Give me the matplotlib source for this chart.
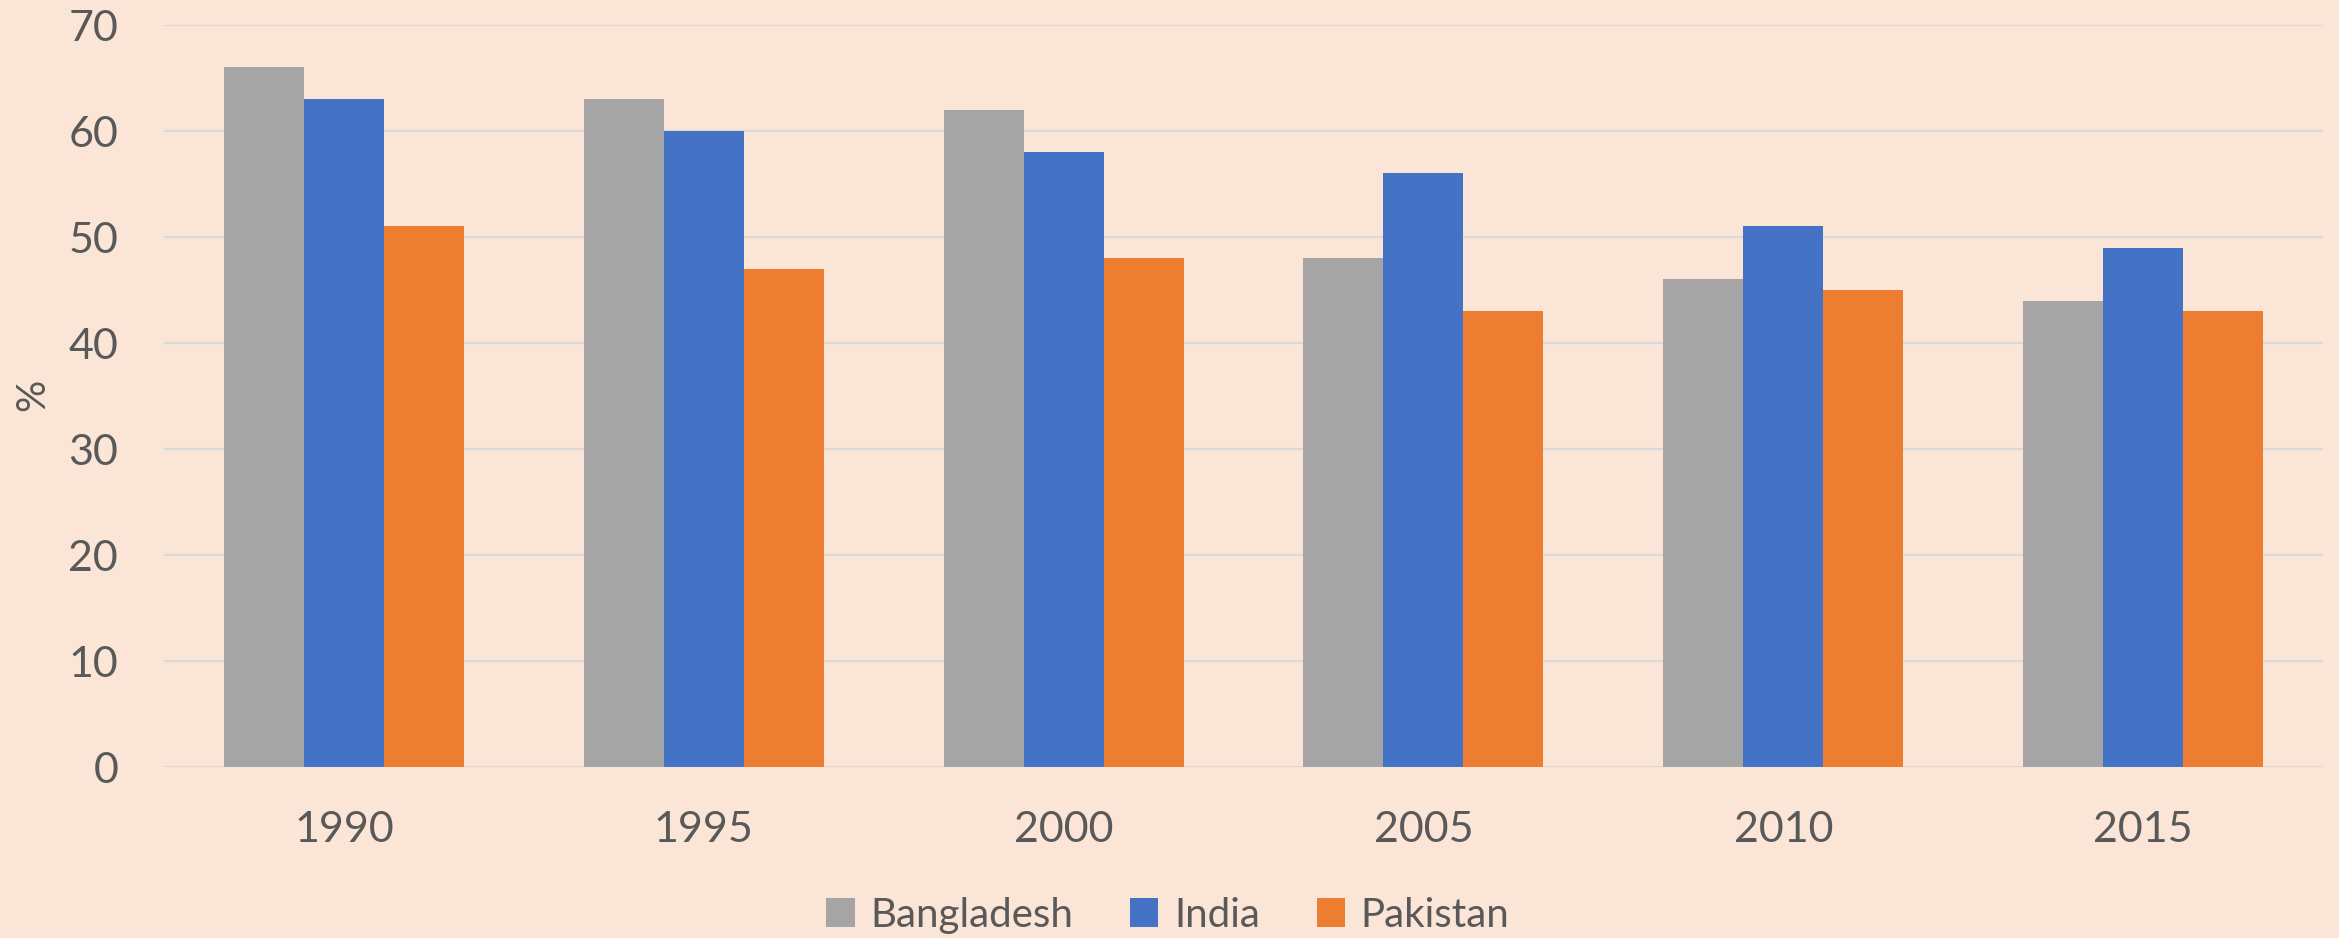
import matplotlib
matplotlib.use("Agg")
import matplotlib.pyplot as plt
import numpy as np

years = ["1990", "1995", "2000", "2005", "2010", "2015"]
bangladesh = [66, 63, 62, 48, 46, 44]
india = [63, 60, 58, 56, 51, 49]
pakistan = [51, 47, 48, 43, 45, 43]
series_names = ["Bangladesh", "India", "Pakistan"]
colors = ["#A5A5A5", "#4472C4", "#ED7D31"]

bg = "#FBE5D6"
txt = "#595959"
plt.rcParams['font.family'] = ['Lato', 'DejaVu Sans']

fig = plt.figure(figsize=(23.39, 9.38), dpi=100, facecolor=bg)
ax = fig.add_axes([164/2339, 1-767/938, (2323-164)/2339, (767-25)/938])
ax.set_facecolor(bg)

x = np.arange(len(years))
w = 0.2223
for i, (vals, name, c) in enumerate(zip([bangladesh, india, pakistan], series_names, colors)):
    ax.bar(x + (i - 1) * w, vals, width=w, color=c, label=name, zorder=3)

ax.set_xlim(-0.5, len(years) - 0.5)
ax.set_ylim(0, 70)
ax.set_yticks(range(0, 71, 10))
ax.set_xticks(x)
ax.set_xticklabels(years)
ax.yaxis.grid(True, color="#D9D9D9", linewidth=1.5, zorder=0)
ax.set_axisbelow(True)
for s in ax.spines.values():
    s.set_visible(False)
ax.tick_params(axis='both', length=0, labelsize=31, colors=txt)
ax.tick_params(axis='y', pad=33)
ax.tick_params(axis='x', pad=32)

fig.text(33/2339, 1-395/938, "%", rotation=90, fontsize=29, color=txt, ha='center', va='center')

leg = fig.legend(loc='center', bbox_to_anchor=(1168/2339, 1-915/938), ncol=3, frameon=False,
                 fontsize=29, labelcolor=txt, handlelength=0.7, handleheight=0.7,
                 handletextpad=0.4, columnspacing=1.4)

fig.savefig("out.png", dpi=100, facecolor=bg)
